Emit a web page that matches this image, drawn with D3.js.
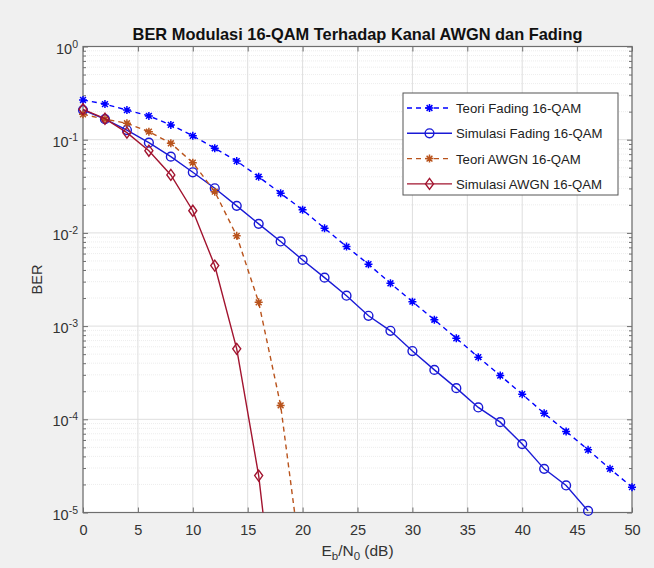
<!DOCTYPE html>
<html>
<head>
<meta charset="utf-8">
<script src="https://cdn.jsdelivr.net/npm/d3@7"></script>
<style>
	body { margin: 0; background: #f0f0f0; }
	svg { display: block; font-family: "Liberation Sans", Arial, sans-serif; }
</style>
</head>
<body>
<svg width="654" height="568"></svg>
<script>

var titleText = "BER Modulasi 16-QAM Terhadap Kanal AWGN dan Fading";
var xLabelParts = ["E", "b", "/N", "0", " (dB)"];
var yLabelText = "BER";

var xTicks = [0, 5, 10, 15, 20, 25, 30, 35, 40, 45, 50];
var yTicks = [1e-5, 1e-4, 1e-3, 1e-2, 1e-1, 1];
var yTickExp = ["-5", "-4", "-3", "-2", "-1", "0"];

var ebn0Fading = [0, 2, 4, 6, 8, 10, 12, 14, 16, 18, 20, 22, 24, 26, 28, 30, 32, 34, 36, 38, 40, 42, 44, 46, 48, 50];
var teoriFading = [0.267, 0.241, 0.208, 0.180, 0.144, 0.110, 0.081, 0.059, 0.040, 0.0266, 0.0177, 0.0112, 0.00713,
	0.00461, 0.00288, 0.00183, 0.00117, 0.00074, 0.000464, 0.000295, 0.000186, 0.000116, 0.000074, 0.000047, 0.0000294, 0.0000187];

var ebn0SimFading = [0, 2, 4, 6, 8, 10, 12, 14, 16, 18, 20, 22, 24, 26, 28, 30, 32, 34, 36, 38, 40, 42, 44, 46];
var simFading = [0.208, 0.166, 0.127, 0.093, 0.0658, 0.0447, 0.0301, 0.0195, 0.0125, 0.0081, 0.00513, 0.00331, 0.00212,
	0.00129, 0.00089, 0.00054, 0.000339, 0.000216, 0.000134, 0.0000932, 0.0000542, 0.0000294, 0.0000195, 0.0000104];

var ebn0TeoriAwgn = [0, 2, 4, 6, 8, 10, 12, 14, 16, 18, 20];
var teoriAwgn = [0.187, 0.166, 0.150, 0.122, 0.0915, 0.0567, 0.0277, 0.0093, 0.0018, 0.000141, 0.0000022];

var ebn0SimAwgn = [0, 2, 4, 6, 8, 10, 12, 14, 16, 18];
var simAwgn = [0.212, 0.168, 0.119, 0.0762, 0.0419, 0.0173, 0.00446, 0.00057, 0.0000249, 0.00000023];

var seriesNames = ["Teori Fading 16-QAM", "Simulasi Fading 16-QAM", "Teori AWGN 16-QAM", "Simulasi AWGN 16-QAM"];
var seriesColors = ["#0000ff", "#1a1ad6", "#b9531c", "#a2142f"];

function makeSeries(xs, ys){
	return xs.map(function(d, i){ return {x: d, y: ys[i]}; });
}

var series = [
	{name: seriesNames[0], color: seriesColors[0], dash: "5,4", marker: "star", data: makeSeries(ebn0Fading, teoriFading)},
	{name: seriesNames[1], color: seriesColors[1], dash: null, marker: "circle", data: makeSeries(ebn0SimFading, simFading)},
	{name: seriesNames[2], color: seriesColors[2], dash: "5,4", marker: "star", data: makeSeries(ebn0TeoriAwgn, teoriAwgn)},
	{name: seriesNames[3], color: seriesColors[3], dash: null, marker: "diamond", data: makeSeries(ebn0SimAwgn, simAwgn)}
];

function drawMarker(sel, type, color){
	if (type == "circle"){
		sel.append("circle").attr("r", 4.4)
			.attr("fill", "none").attr("stroke", color).attr("stroke-width", 1.4);
	} else if (type == "diamond"){
		sel.append("path").attr("d", "M0,-5.5L4,0L0,5.5L-4,0Z")
			.attr("fill", "none").attr("stroke", color).attr("stroke-width", 1.4);
	} else {
		var r = 4, q = 2.9;
		sel.append("path").attr("d", "M0," + (-r) + "V" + r + "M" + (-r) + ",0H" + r +
			"M" + (-q) + "," + (-q) + "L" + q + "," + q + "M" + (-q) + "," + q + "L" + q + "," + (-q))
			.attr("fill", "none").attr("stroke", color).attr("stroke-width", 1.5);
	}
}

function drawChart(){
	var svg = d3.select("svg"),
		margin = {top: 46.5, right: 22, bottom: 55.5, left: 83},
		width = 654 - margin.left - margin.right,
		height = 568 - margin.top - margin.bottom,
		g = svg.append("g").attr("transform", "translate(" + margin.left + "," + margin.top + ")");

	var x = d3.scaleLinear().domain([0, 50]).range([0, width]);
	var y = d3.scaleLog().domain([1e-5, 1]).range([height, 0]);

	var minorY = y.ticks().filter(function(t){ return yTicks.indexOf(t) < 0; });

	g.append("rect").attr("width", width).attr("height", height).attr("fill", "#fff");

	// grid
	g.append("g").selectAll("line").data(minorY).enter().append("line")
		.attr("x1", 0).attr("x2", width)
		.attr("y1", function(d){ return y(d); }).attr("y2", function(d){ return y(d); })
		.attr("stroke", "#e8e8e8").attr("stroke-width", 0.8).attr("stroke-dasharray", "1,1");
	g.append("g").selectAll("line").data(yTicks).enter().append("line")
		.attr("x1", 0).attr("x2", width)
		.attr("y1", function(d){ return y(d); }).attr("y2", function(d){ return y(d); })
		.attr("stroke", "#dedede").attr("stroke-width", 1);
	g.append("g").selectAll("line").data(xTicks).enter().append("line")
		.attr("y1", 0).attr("y2", height)
		.attr("x1", function(d){ return x(d); }).attr("x2", function(d){ return x(d); })
		.attr("stroke", "#dedede").attr("stroke-width", 1);

	// axes, ticks inside like matlab
	var axisColor = "#6e6e6e";
	var bottom = g.append("g").attr("transform", "translate(0," + height + ")")
		.call(d3.axisBottom(x).tickValues(xTicks).tickSize(-5).tickPadding(12));
	g.append("g").call(d3.axisTop(x).tickValues(xTicks).tickSize(-5).tickFormat(""));
	g.append("g").call(d3.axisLeft(y).tickValues(yTicks).tickSize(-5).tickFormat(""));
	g.append("g").attr("transform", "translate(" + width + ",0)")
		.call(d3.axisRight(y).tickValues(yTicks).tickSize(-5).tickFormat(""));
	g.append("g").call(d3.axisLeft(y).tickValues(minorY).tickSize(-3).tickFormat(""));
	g.append("g").attr("transform", "translate(" + width + ",0)")
		.call(d3.axisRight(y).tickValues(minorY).tickSize(-3).tickFormat(""));

	g.selectAll(".domain").remove();
	g.selectAll(".tick line").attr("stroke", axisColor);
	bottom.selectAll("text").attr("fill", "#333").attr("font-size", 14.5)
		.attr("font-family", "Liberation Sans, Arial, sans-serif");

	g.append("rect").attr("width", width).attr("height", height)
		.attr("fill", "none").attr("stroke", axisColor).attr("stroke-width", 1.2);

	// y tick labels 10^k
	var ylab = g.append("g").selectAll("text").data(yTicks).enter().append("text")
		.attr("x", -5).attr("y", function(d){ return y(d) + 7; })
		.attr("text-anchor", "end").attr("fill", "#333").attr("font-size", 14.5);
	ylab.append("tspan").text("10");
	ylab.append("tspan").attr("dy", -6).attr("font-size", 10.5)
		.text(function(d, i){ return yTickExp[i]; });

	// lines
	var clip = svg.append("clipPath").attr("id", "plotClip");
	clip.append("rect").attr("width", width).attr("height", height);

	var line = d3.line()
		.x(function(d){ return x(d.x); })
		.y(function(d){ return y(d.y); });

	for (var s of series){
		g.append("path")
			.datum(s.data)
			.attr("clip-path", "url(#plotClip)")
			.attr("fill", "none")
			.attr("stroke", s.color)
			.attr("stroke-width", 1.4)
			.attr("stroke-dasharray", s.dash)
			.attr("d", line);

		var pts = s.data.filter(function(d){ return d.y >= 1e-5 * 0.99; });
		var mk = g.append("g").selectAll("g").data(pts).enter().append("g")
			.attr("transform", function(d){ return "translate(" + x(d.x) + "," + y(d.y) + ")"; });
		drawMarker(mk, s.marker, s.color);
	}

	// title and labels
	svg.append("text").attr("x", margin.left + width / 2).attr("y", 40)
		.attr("text-anchor", "middle").attr("font-weight", "bold").attr("font-size", 16.4)
		.attr("fill", "#111").text(titleText);

	var xl = svg.append("text").attr("x", margin.left + width / 2).attr("y", 556)
		.attr("text-anchor", "middle").attr("fill", "#333").attr("font-size", 15.5);
	xl.append("tspan").text(xLabelParts[0]);
	xl.append("tspan").attr("dy", 4).attr("font-size", 11.5).text(xLabelParts[1]);
	xl.append("tspan").attr("dy", -4).text(xLabelParts[2]);
	xl.append("tspan").attr("dy", 4).attr("font-size", 11.5).text(xLabelParts[3]);
	xl.append("tspan").attr("dy", -4).text(xLabelParts[4]);

	svg.append("text").attr("transform", "translate(42," + (margin.top + height / 2) + ") rotate(-90)")
		.attr("text-anchor", "middle").attr("fill", "#333").attr("font-size", 14.5).text(yLabelText);

	// legend
	var leg = svg.append("g").attr("transform", "translate(403,93)");
	leg.append("rect").attr("width", 215).attr("height", 102)
		.attr("fill", "#fff").attr("stroke", "#555").attr("stroke-width", 1);
	var items = leg.selectAll("g.item").data(series).enter().append("g")
		.attr("class", "item")
		.attr("transform", function(d, i){ return "translate(0," + (15 + i * 25.3) + ")"; });
	items.append("line").attr("x1", 4).attr("x2", 49)
		.attr("stroke", function(d){ return d.color; })
		.attr("stroke-width", 1.4)
		.attr("stroke-dasharray", function(d){ return d.dash; });
	items.each(function(d){
		var m = d3.select(this).append("g").attr("transform", "translate(26.5,0)");
		drawMarker(m, d.marker, d.color);
	});
	items.append("text").attr("x", 53).attr("y", 5)
		.attr("fill", "#222").attr("font-size", 13.2)
		.text(function(d){ return d.name; });
}

drawChart();
</script>
</body>
</html>
